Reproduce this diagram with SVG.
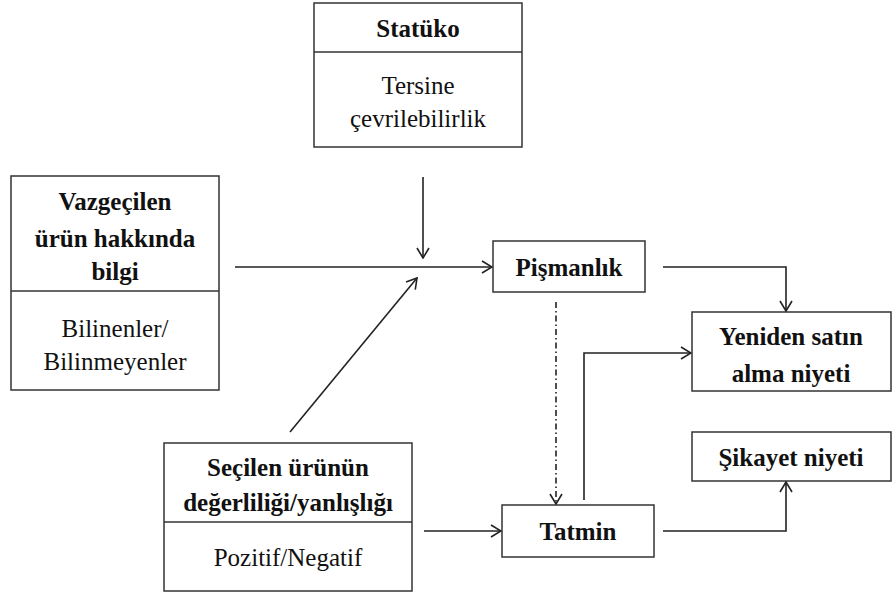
<svg xmlns="http://www.w3.org/2000/svg" width="893" height="597" viewBox="0 0 893 597">
  <defs>
    <marker id="arr" viewBox="0 0 12 14" refX="11" refY="7" markerWidth="12" markerHeight="14" markerUnits="userSpaceOnUse" orient="auto">
      <path d="M1,1 L11,7 L1,13" fill="none" stroke="#222" stroke-width="1.6"/>
    </marker>
  </defs>
  <rect width="893" height="597" fill="#fff"/>

  <!-- boxes: white fill, dark grey outline; labels: Liberation Serif 25px centred -->
  <g id="statuko" fill="#fff" stroke="#333" stroke-width="1.5">
    <rect x="314" y="3" width="208" height="144"/>
    <line x1="314" y1="52" x2="522" y2="52"/>
    <g stroke="none" fill="#111" text-anchor="middle">
      <text x="418" y="37" style="font-family: 'Liberation Serif'; font-size: 25px; font-weight: bold">Statüko</text>
      <text x="418" y="94" style="font-family: 'Liberation Serif'; font-size: 25px">Tersine</text>
      <text x="418" y="127" style="font-family: 'Liberation Serif'; font-size: 25px">çevrilebilirlik</text>
    </g>
  </g>

  <g id="vazgecilen" fill="#fff" stroke="#333" stroke-width="1.5">
    <rect x="11" y="176" width="208" height="214"/>
    <line x1="11" y1="291" x2="219" y2="291"/>
    <g stroke="none" fill="#111" text-anchor="middle">
      <text x="115" y="210" style="font-family: 'Liberation Serif'; font-size: 25px; font-weight: bold">Vazgeçilen</text>
      <text x="115" y="247" style="font-family: 'Liberation Serif'; font-size: 25px; font-weight: bold">ürün hakkında</text>
      <text x="115" y="280" style="font-family: 'Liberation Serif'; font-size: 25px; font-weight: bold">bilgi</text>
      <text x="115" y="337" style="font-family: 'Liberation Serif'; font-size: 25px">Bilinenler/</text>
      <text x="115" y="370" style="font-family: 'Liberation Serif'; font-size: 25px">Bilinmeyenler</text>
    </g>
  </g>

  <g id="secilen" fill="#fff" stroke="#333" stroke-width="1.5">
    <rect x="164" y="443" width="248" height="148"/>
    <line x1="164" y1="522" x2="412" y2="522"/>
    <g stroke="none" fill="#111" text-anchor="middle">
      <text x="288" y="476" style="font-family: 'Liberation Serif'; font-size: 25px; font-weight: bold">Seçilen ürünün</text>
      <text x="288" y="511" style="font-family: 'Liberation Serif'; font-size: 25px; font-weight: bold">değerliliği/yanlışlığı</text>
      <text x="288" y="566" style="font-family: 'Liberation Serif'; font-size: 25px">Pozitif/Negatif</text>
    </g>
  </g>

  <g id="pismanlik" fill="#fff" stroke="#333" stroke-width="1.5">
    <rect x="493" y="241" width="152" height="51"/>
    <text x="569" y="276" stroke="none" fill="#111" text-anchor="middle" style="font-family: 'Liberation Serif'; font-size: 25px; font-weight: bold">Pişmanlık</text>
  </g>

  <g id="tatmin" fill="#fff" stroke="#333" stroke-width="1.5">
    <rect x="502" y="505" width="152" height="52"/>
    <text x="578" y="540" stroke="none" fill="#111" text-anchor="middle" style="font-family: 'Liberation Serif'; font-size: 25px; font-weight: bold">Tatmin</text>
  </g>

  <g id="yeniden" fill="#fff" stroke="#333" stroke-width="1.5">
    <rect x="692" y="312" width="199" height="79"/>
    <g stroke="none" fill="#111" text-anchor="middle">
      <text x="791" y="345" style="font-family: 'Liberation Serif'; font-size: 25px; font-weight: bold">Yeniden satın</text>
      <text x="791" y="382" style="font-family: 'Liberation Serif'; font-size: 25px; font-weight: bold">alma niyeti</text>
    </g>
  </g>

  <g id="sikayet" fill="#fff" stroke="#333" stroke-width="1.5">
    <rect x="692" y="432" width="199" height="49"/>
    <text x="791" y="466" stroke="none" fill="#111" text-anchor="middle" style="font-family: 'Liberation Serif'; font-size: 25px; font-weight: bold">Şikayet niyeti</text>
  </g>

  <!-- connectors: open-V arrowheads; Pişmanlık to Tatmin is dash-dot -->
  <g id="connectors" fill="none" stroke="#222" stroke-width="1.6">
    <line x1="423" y1="177" x2="423" y2="258" marker-end="url(#arr)"/>
    <line x1="235" y1="267" x2="492" y2="267" marker-end="url(#arr)"/>
    <line x1="290" y1="432" x2="417" y2="278" marker-end="url(#arr)"/>
    <polyline points="663,267 786,267 786,311" marker-end="url(#arr)"/>
    <polyline points="584,500 584,353 691,353" marker-end="url(#arr)"/>
    <polyline points="663,531 786,531 786,482" marker-end="url(#arr)"/>
    <line x1="424" y1="531" x2="501" y2="531" marker-end="url(#arr)"/>
    <line x1="556" y1="302" x2="556" y2="504" stroke-dasharray="6 3 1.5 3" marker-end="url(#arr)"/>
  </g>
</svg>
